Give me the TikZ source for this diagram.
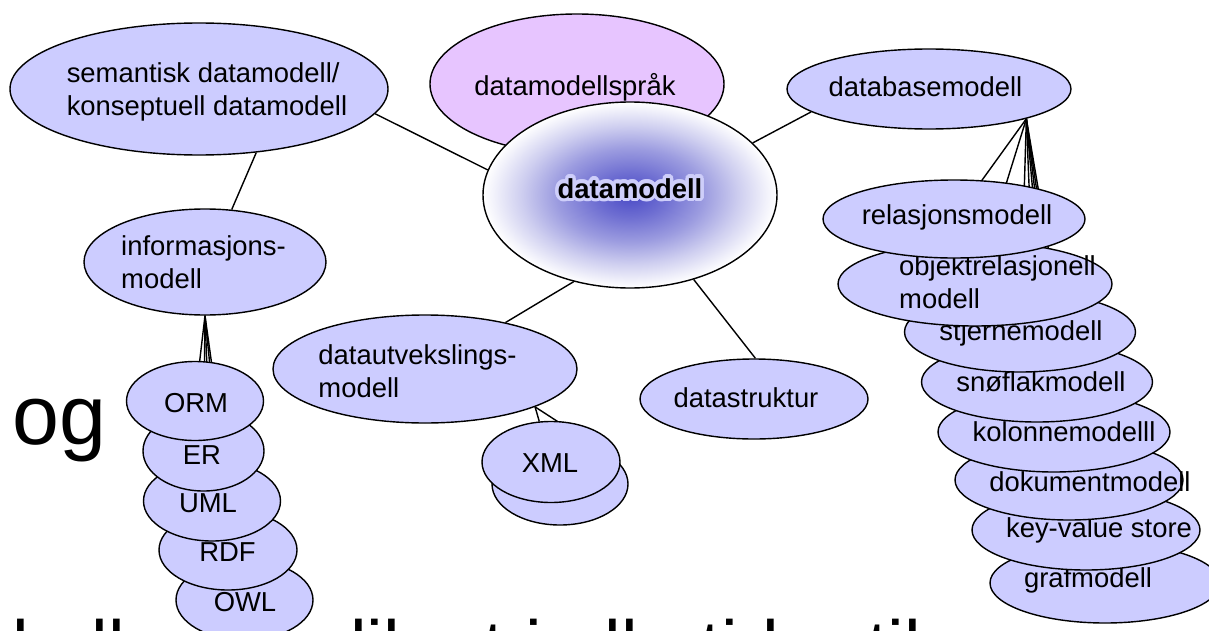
\documentclass[tikz,border=0pt]{standalone}
\usepackage{fontspec}
\setmainfont{Liberation Sans}
\usepackage{contour}
\usetikzlibrary{shapes.geometric}
\definecolor{bubfill}{RGB}{204,204,255}
\definecolor{langfill}{RGB}{231,197,255}
\definecolor{coreblue}{RGB}{74,74,198}
\definecolor{halo}{RGB}{206,206,250}
\pgfdeclareradialshading{coreshade}{\pgfpoint{0bp}{0bp}}{color(0bp)=(coreblue); color(6bp)=(coreblue!80!white); color(12.5bp)=(coreblue!55!white); color(18.5bp)=(coreblue!27!white); color(23bp)=(coreblue!8!white); color(25bp)=(white); color(50bp)=(white)}
\pgfdeclarelayer{bg}
\pgfsetlayers{bg,main}
\contourlength{2pt}

\begin{document}
\begin{tikzpicture}[
  bubble/.style={ellipse, draw, line width=0.8pt, fill=bubfill, inner sep=0pt},
  lbl/.style={inner sep=0pt, font=\fontsize{15.6}{18.8}\selectfont},
  big/.style={inner sep=0pt, anchor=base west, font=\fontsize{48}{50}\selectfont},
  link/.style={line width=0.8pt}]
\useasboundingbox (0,0) rectangle (24.18,12.6);
\clip (0,0) rectangle (24.18,12.6);

\node[bubble, minimum width=7.56cm, minimum height=2.64cm] (sem) at (3.98,10.82) {};
\node[lbl, align=left] (semtxt) at (4.14,10.77) {semantisk datamodell/\\konseptuell datamodell};
\node[bubble, fill=langfill, minimum width=5.88cm, minimum height=2.8cm] (spr) at (11.54,10.92) {};
\node[lbl] (sprtxt) at (11.5,10.86) {datamodellspråk};
\node[bubble, shading=coreshade, minimum width=5.88cm, minimum height=3.72cm] (dm) at (12.6,8.7) {};
\node[lbl] (dmtxt) at (12.6,8.8) {\contour{halo}{\textbf{datamodell}}};
\node[bubble, minimum width=5.68cm, minimum height=1.6cm] (dbm) at (18.58,10.82) {};
\node[lbl] (dbmtxt) at (18.51,10.86) {databasemodell};
\node[bubble, minimum width=4.84cm, minimum height=2.12cm] (inf) at (4.1,7.36) {};
\node[lbl, align=left] (inftxt) at (4.07,7.36) {informasjons-\\modell};
\node[bubble, minimum width=6.08cm, minimum height=2.16cm] (dx) at (8.5,5.22) {};
\node[lbl, align=left] (dxtxt) at (8.35,5.18) {datautvekslings-\\modell};
\node[bubble, minimum width=4.56cm, minimum height=1.6cm] (ds) at (15.08,4.62) {};
\node[lbl] (dstxt) at (14.92,4.64) {datastruktur};
\node[bubble, minimum width=2.72cm, minimum height=1.64cm] (xmlb) at (11.2,2.92) {};
\node[bubble, minimum width=2.76cm, minimum height=1.62cm] (xml) at (11.02,3.36) {};
\node[lbl] (xmltxt) at (11.0,3.34) {XML};

\node[bubble, minimum width=2.74cm, minimum height=1.6cm] (owl) at (4.89,0.6) {};
\node[lbl] (owltxt) at (4.9,0.56) {OWL};
\node[bubble, minimum width=2.76cm, minimum height=1.6cm] (rdf) at (4.56,1.6) {};
\node[lbl] (rdftxt) at (4.55,1.56) {RDF};
\node[bubble, minimum width=2.74cm, minimum height=1.6cm] (uml) at (4.24,2.58) {};
\node[lbl] (umltxt) at (4.16,2.54) {UML};
\node[bubble, minimum width=2.42cm, minimum height=1.6cm] (er) at (4.07,3.58) {};
\node[lbl] (ertxt) at (4.04,3.5) {ER};
\node[bubble, minimum width=2.74cm, minimum height=1.58cm] (orm) at (3.9,4.58) {};
\node[lbl] (ormtxt) at (3.92,4.54) {ORM};

\node[bubble, minimum width=4.6cm, minimum height=1.6cm] (graf) at (22.1,0.94) {};
\node[lbl] (graftxt) at (21.76,1.0) {grafmodell};
\node[bubble, minimum width=4.56cm, minimum height=1.6cm] (key) at (21.72,2.0) {};
\node[lbl] (keytxt) at (21.98,2.0) {key-value store};
\node[bubble, minimum width=4.56cm, minimum height=1.6cm] (dok) at (21.38,3.0) {};
\node[lbl] (doktxt) at (21.8,2.96) {dokumentmodell};
\node[bubble, minimum width=4.64cm, minimum height=1.6cm] (kol) at (21.08,3.96) {};
\node[lbl] (koltxt) at (21.28,3.96) {kolonnemodelll};
\node[bubble, minimum width=4.62cm, minimum height=1.6cm] (sno) at (20.74,4.96) {};
\node[lbl] (snotxt) at (20.82,4.96) {snøflakmodell};
\node[bubble, minimum width=4.62cm, minimum height=1.6cm] (stj) at (20.4,5.96) {};
\node[lbl] (stjtxt) at (20.42,5.94) {stjernemodell};
\node[bubble, minimum width=5.48cm, minimum height=1.68cm] (obj) at (19.5,6.92) {};
\node[lbl, align=left] (objtxt) at (19.95,6.96) {objektrelasjonell\\modell};
\node[bubble, minimum width=5.24cm, minimum height=1.56cm] (rel) at (19.08,8.22) {};
\node[lbl] (reltxt) at (19.14,8.26) {relasjonsmodell};

\begin{pgfonlayer}{bg}
\node[big] (og) at (0.24,3.72) {og};
\node[big, font=\fontsize{42.7}{44}\selectfont] (tail) at (0.24,-0.86) {kalle det slik at i alle tider til};
\draw[link] (sem.-8) -- (dm.170);
\draw[link] (dm.23) -- (dbm.191);
\draw[link] (sem.-48) -- (inf.63);
\draw[link] (dm.237) -- (dx.30);
\draw[link] (dm.-53) -- (ds.88);
\draw[link] (dx.-19) -- (xml);
\draw[link] (dx.-19) -- (xmlb.north east);
\foreach \c in {orm,er,uml,rdf,owl}
  \draw[link] (inf.south) -- (\c);
\foreach \c in {rel,obj,stj,sno,kol,dok,key,graf}
  \draw[link] (dbm.-17) -- (\c);
\end{pgfonlayer}
\end{tikzpicture}
\end{document}
